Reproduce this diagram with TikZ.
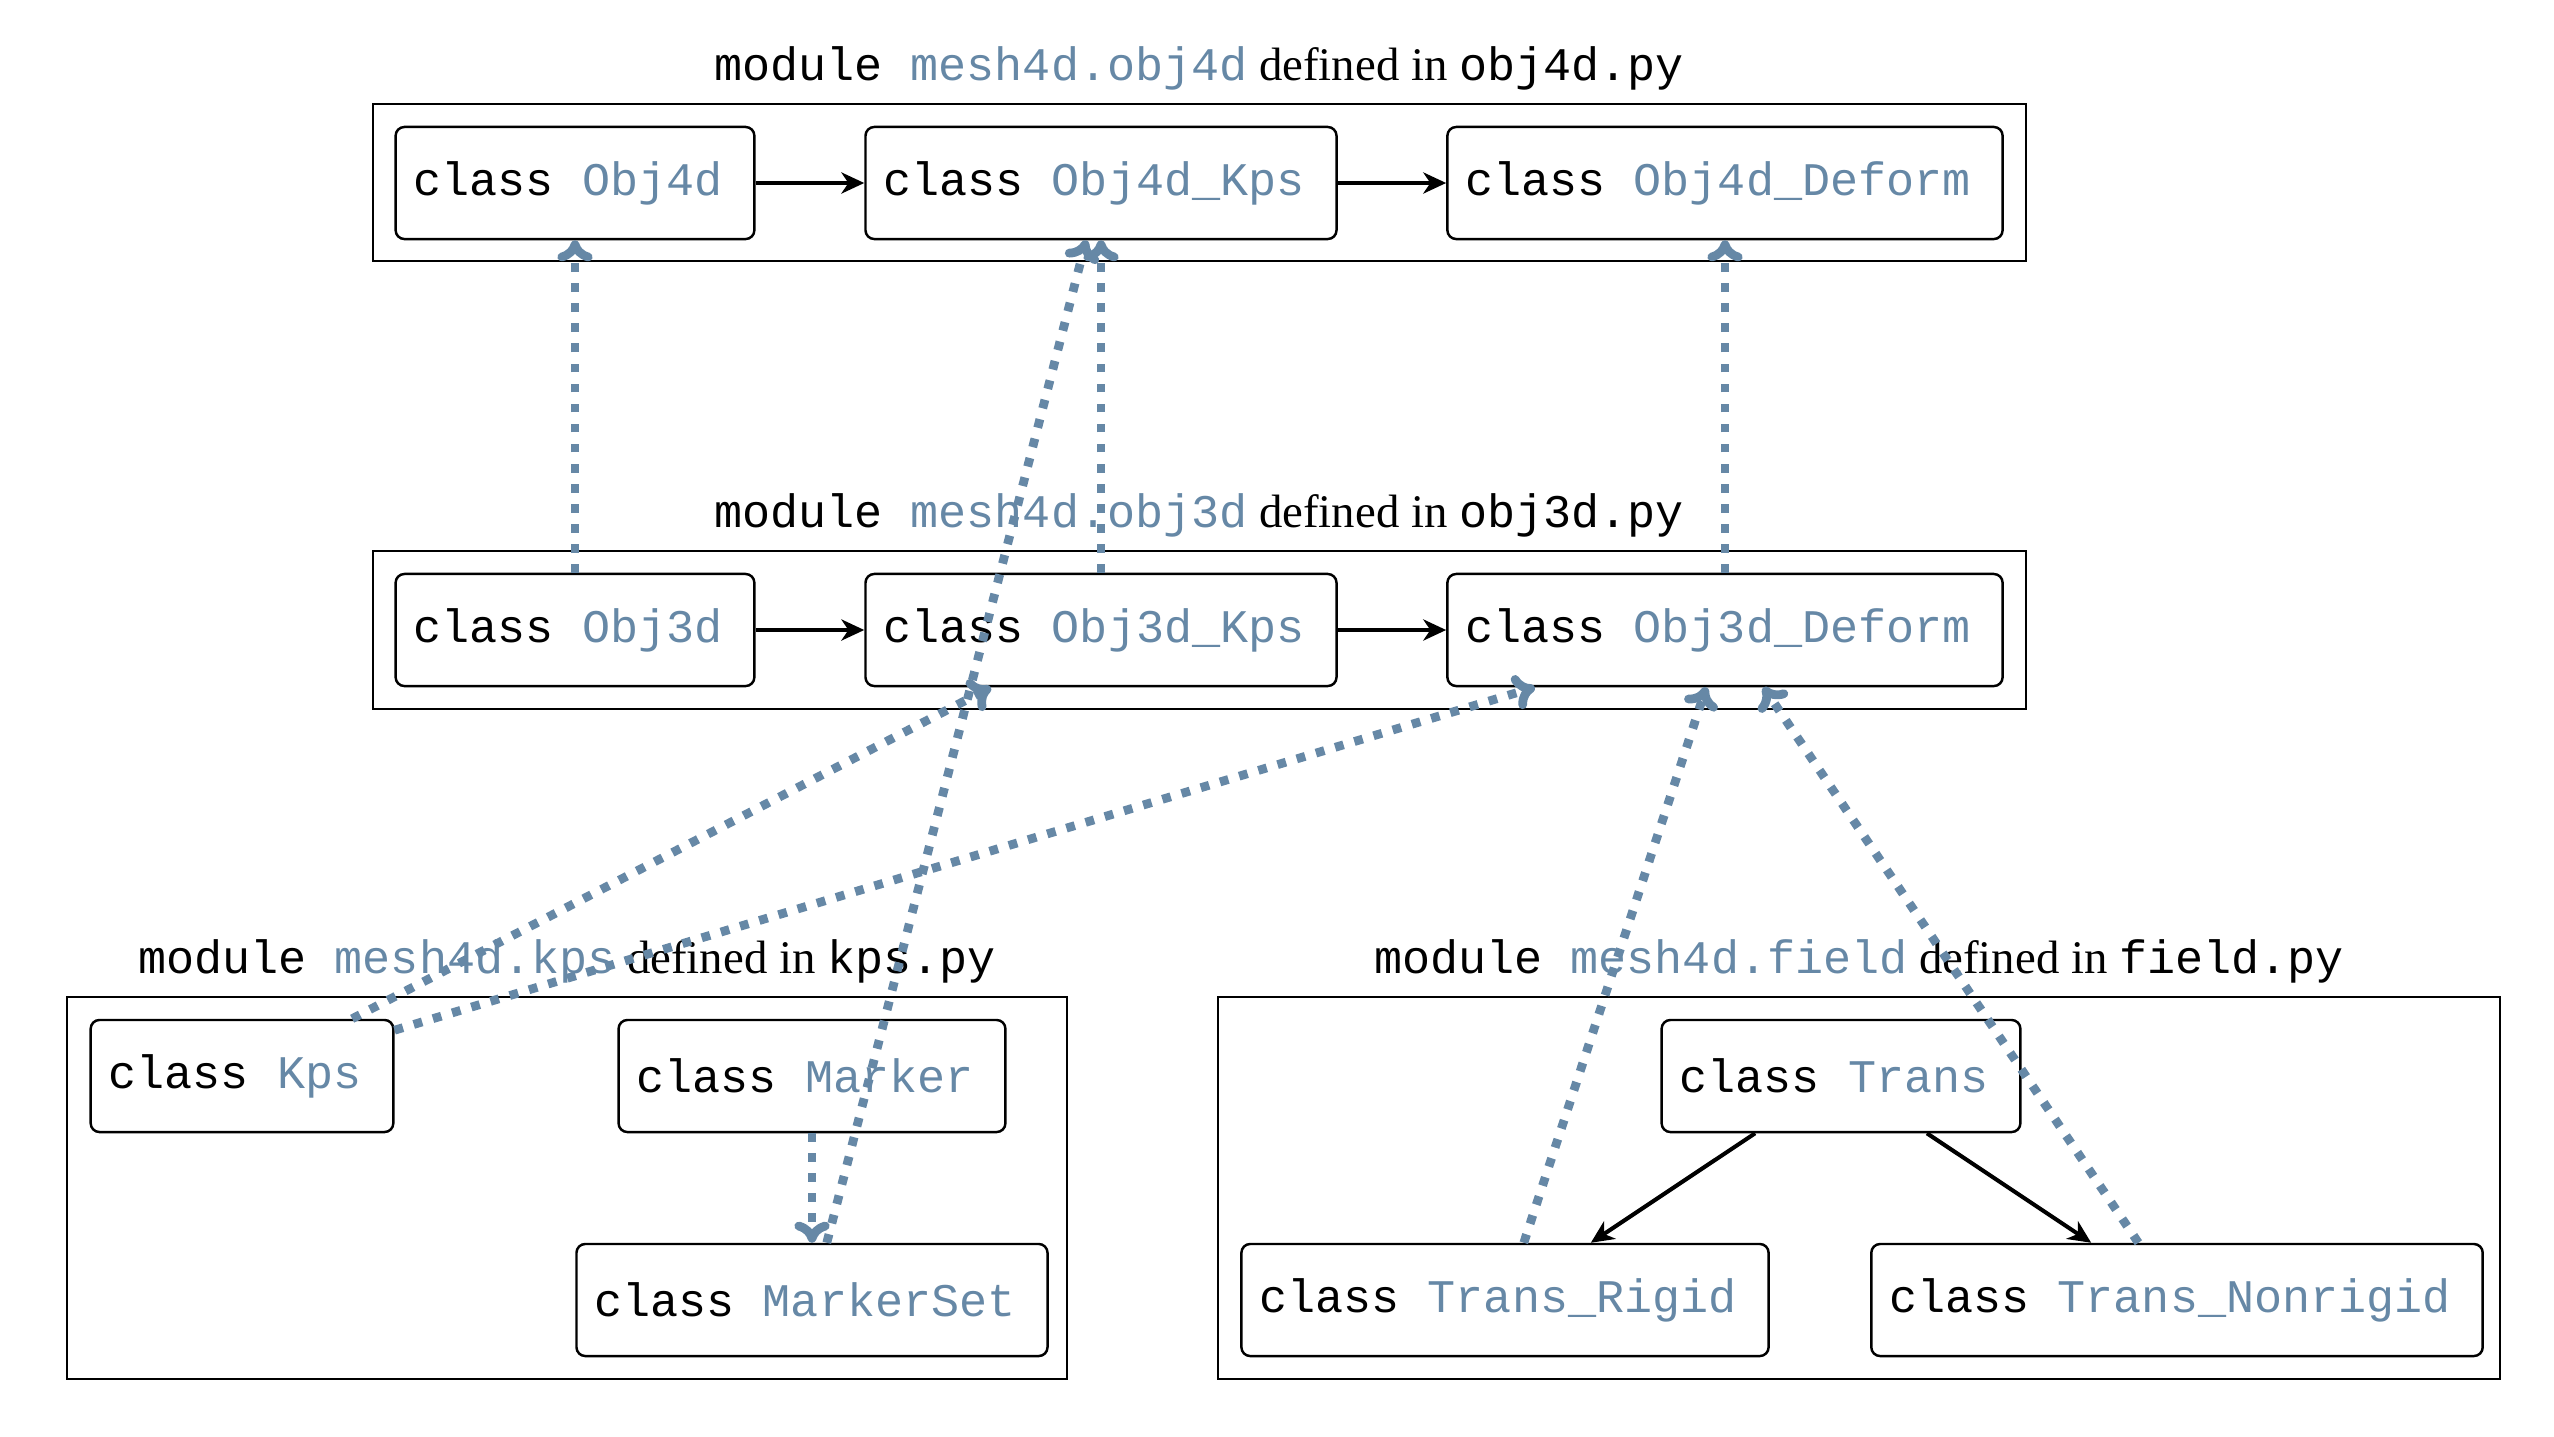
\documentclass[tikz,border=0pt]{standalone}
\usepackage{fontspec}
\setmainfont{Liberation Serif}
\setmonofont{Liberation Mono}
\usetikzlibrary{arrows.meta}
\definecolor{modblue}{RGB}{102,136,166}
\newcommand{\cls}[1]{\texttt{class \textcolor{modblue}{#1}}\kern0.14cm}
\newcommand{\modtitle}[2]{\texttt{module \textcolor{modblue}{#1}} defined in \texttt{#2}}

\begin{document}
\begin{tikzpicture}[x=0.01cm, y=-0.01cm,
    font=\fontsize{13.3}{16}\selectfont,
    cls/.style={draw, rounded corners=2.5pt, line width=0.7pt, minimum height=1.12cm, inner xsep=0.18cm},
    modbox/.style={draw, line width=0.7pt},
    modname/.style={anchor=base, inner sep=0pt},
    inherit/.style={-{Stealth[length=6.5pt,width=6pt,inset=2pt]}, line width=1.15pt},
    usedby/.style={-{Computer Modern Rightarrow[length=6pt,width=10pt,line cap=round]}, modblue, line width=2.5pt, dash pattern=on 2.5pt off 3.2pt}]
    \useasboundingbox (0,0) rectangle (2554,1436);
    % modules
    \draw[modbox] (373,104) rectangle (2026,261);
    \draw[modbox] (373,551) rectangle (2026,709);
    \draw[modbox] (67,997) rectangle (1067,1379);
    \draw[modbox] (1218,997) rectangle (2500,1379);
    \node[modname] (m4d) at (1199,80) {\modtitle{mesh4d.obj4d}{obj4d.py}};
    \node[modname] (m3d) at (1199,527) {\modtitle{mesh4d.obj3d}{obj3d.py}};
    \node[modname] (mkps) at (567,973) {\modtitle{mesh4d.kps}{kps.py}};
    \node[modname] (mfield) at (1859,973) {\modtitle{mesh4d.field}{field.py}};
    % classes
    \node[cls] (obj4d) at (575,183) {\cls{Obj4d}};
    \node[cls] (obj4dkps) at (1101,183) {\cls{Obj4d\_Kps}};
    \node[cls] (obj4ddeform) at (1725,183) {\cls{Obj4d\_Deform}};
    \node[cls] (obj3d) at (575,630) {\cls{Obj3d}};
    \node[cls] (obj3dkps) at (1101,630) {\cls{Obj3d\_Kps}};
    \node[cls] (obj3ddeform) at (1725,630) {\cls{Obj3d\_Deform}};
    \node[cls] (kps) at (242,1076) {\cls{Kps}};
    \node[cls] (marker) at (812,1076) {\cls{Marker}};
    \node[cls] (markerset) at (812,1300) {\cls{MarkerSet}};
    \node[cls] (trans) at (1841,1076) {\cls{Trans}};
    \node[cls] (rigid) at (1505,1300) {\cls{Trans\_Rigid}};
    \node[cls] (nonrigid) at (2177,1300) {\cls{Trans\_Nonrigid}};
    % inheritance
    \draw[inherit] (obj4d) -- (obj4dkps);
    \draw[inherit] (obj4dkps) -- (obj4ddeform);
    \draw[inherit] (obj3d) -- (obj3dkps);
    \draw[inherit] (obj3dkps) -- (obj3ddeform);
    \draw[inherit] (trans) -- (rigid);
    \draw[inherit] (trans) -- (nonrigid);
    % usage across modules
    \draw[usedby] (obj3d) -- (obj4d);
    \draw[usedby] (obj3dkps) -- (obj4dkps);
    \draw[usedby] (obj3ddeform) -- (obj4ddeform);
    \draw[usedby] (markerset) -- (obj4dkps);
    \draw[usedby] (marker) -- (markerset);
    \draw[usedby] (kps) -- (obj3dkps);
    \draw[usedby] (kps) -- (obj3ddeform);
    \draw[usedby] (rigid) -- (obj3ddeform);
    \draw[usedby] (nonrigid) -- (obj3ddeform);
\end{tikzpicture}
\end{document}
